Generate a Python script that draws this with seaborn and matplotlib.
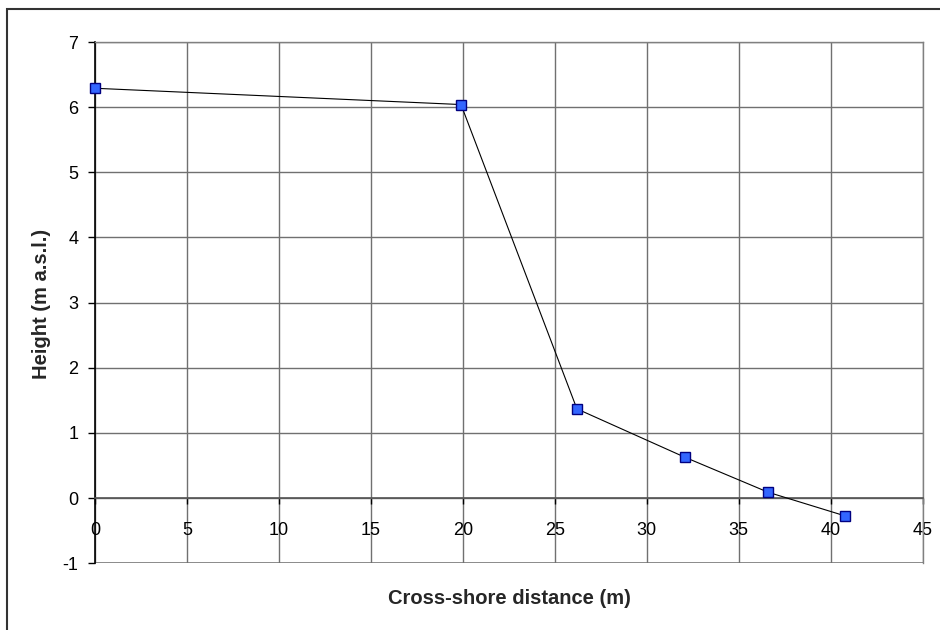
import matplotlib
matplotlib.use("Agg")
import matplotlib.pyplot as plt
from matplotlib.patches import Rectangle
import seaborn as sns
import pandas as pd

# Beach profile survey points
distance_m = [0.0, 19.9, 26.2, 32.05, 36.6, 40.75]
height_m = [6.29, 6.04, 1.37, 0.63, 0.09, -0.27]

x_ticks = [0, 5, 10, 15, 20, 25, 30, 35, 40, 45]
y_ticks = [-1, 0, 1, 2, 3, 4, 5, 6, 7]

profile = pd.DataFrame({"distance": distance_m, "height": height_m})

sns.set_theme(style="white")
plt.rcParams["font.family"] = ["Liberation Sans", "DejaVu Sans"]

fig = plt.figure(figsize=(9.4, 6.3), dpi=100)
ax = fig.add_axes([95 / 940, 1 - 563.3 / 630, (922.7 - 95) / 940, (563.3 - 42) / 630])

sns.lineplot(
    data=profile, x="distance", y="height", ax=ax, sort=False,
    color="black", linewidth=0.8, marker="s", markersize=6.5,
    markerfacecolor="#3366ff", markeredgecolor="#000080", markeredgewidth=1.0,
    clip_on=False, zorder=5,
)

# Category axis crosses the value axis at zero
ax.spines["bottom"].set_position(("data", 0))
ax.spines["bottom"].set_color("#555555")
ax.spines["bottom"].set_linewidth(1.2)
ax.spines["left"].set_color("black")
ax.spines["left"].set_linewidth(1.2)
for side in ("top", "right"):
    ax.spines[side].set_color("#808080")
    ax.spines[side].set_linewidth(1.0)

ax.set_xlim(0, 45)
ax.set_ylim(-1, 7)
ax.set_xticks(x_ticks)
ax.set_yticks(y_ticks)
ax.set_xticklabels([str(v) for v in x_ticks])
ax.set_yticklabels([str(v) for v in y_ticks])

ax.grid(True, color="#707070", linewidth=1.0)
ax.set_axisbelow(True)
ax.axhline(-1, color="#808080", linewidth=1.2, zorder=0.5)

ax.tick_params(axis="y", direction="out", length=5, width=1, color="black",
               pad=7, left=True, labelsize=13, labelcolor="black")
ax.tick_params(axis="x", direction="out", length=4, width=1, color="black",
               pad=13, bottom=True, labelsize=13, labelcolor="black")

ax.set_xlabel("")
ax.set_ylabel("")
fig.text(509 / 940, 1 - 598 / 630, "Cross-shore distance (m)", ha="center", va="center",
         fontsize=14.5, fontweight="bold")
fig.text(42 / 940, 1 - 303.5 / 630, "Height (m a.s.l.)", ha="center", va="center",
         fontsize=14.5, fontweight="bold", rotation=90)

# Chart-area frame
fig.patches.append(Rectangle((7 / 940, -0.05), 1.2, 1 - 9 / 630 + 0.05,
                             transform=fig.transFigure, fill=False,
                             edgecolor="#333333", linewidth=1.5, clip_on=False))

fig.savefig("out.png", dpi=100)
